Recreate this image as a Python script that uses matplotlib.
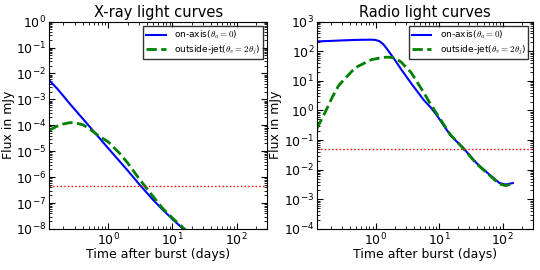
import numpy as np
import matplotlib
matplotlib.use('Agg')
import matplotlib.pyplot as plt
from matplotlib.ticker import LogLocator

plt.rcParams['mathtext.fontset'] = 'cm'

# X-ray panel: time (days) and flux (mJy)
t_xray = [0.12, 0.16, 0.2, 0.25, 0.3, 0.4, 0.5, 0.7, 1.0, 1.5, 2.0, 3.0, 5.0, 7.0, 10.0, 15.0, 18.0]
xray_on = [5.5e-3, 2.6e-3, 1.35e-3, 6.9e-4, 4.1e-4, 1.8e-4, 9.5e-5, 3.6e-5, 1.29e-5,
           4.1e-6, 1.82e-6, 5.5e-7, 1.32e-7, 5.6e-8, 2.4e-8, 9.5e-9, 6.3e-9]
xray_off = [6.3e-5, 9.3e-5, 1.12e-4, 1.26e-4, 1.26e-4, 1.05e-4, 7.6e-5, 3.98e-5, 2.29e-5,
            8.3e-6, 3.55e-6, 8.9e-7, 1.78e-7, 6.3e-8, 2.63e-8, 1.05e-8, 7.1e-9]
xray_limit = 4.4e-7

# Radio panel
t_radio = [0.12, 0.158, 0.209, 0.263, 0.331, 0.479, 0.603, 0.871, 1.0, 1.148, 1.318, 1.514,
           1.738, 1.995, 2.512, 3.63, 5.75, 7.41, 9.33, 15.1, 24.0, 38.9, 63.1, 89.1, 112.2, 144.5]
radio_on = [214, 219, 224, 229, 234, 240, 243, 245, 240, 219, 174, 120,
            79, 52.5, 25.1, 8.3, 2.24, 1.26, 0.66, 0.145, 0.054, 0.0166, 0.0066, 0.00355, 0.00316, 0.00355]
radio_off = [0.25, 0.79, 2.82, 6.9, 12.0, 27.5, 35.5, 52.5, 55.0, 58.9, 61.7, 63.1,
             62.0, 58.9, 43.7, 19.1, 3.98, 1.58, 0.74, 0.151, 0.0525, 0.0158, 0.0063, 0.0033, 0.0029, 0.0034]
radio_limit = 0.051

on_label = r'on-axis($\theta_a=0$)'
off_label = r'outside-jet($\theta_v=2\theta_j$)'

fig = plt.figure(figsize=(5.4, 2.7), dpi=100)
ax1 = fig.add_axes([0.091, 0.152, 0.404, 0.768])
ax2 = fig.add_axes([0.587, 0.152, 0.400, 0.768])


def style_axis(ax, title, ylim):
    ax.set_xscale('log')
    ax.set_yscale('log')
    ax.set_xlim(0.12, 300)
    ax.set_ylim(*ylim)
    ax.yaxis.set_major_locator(LogLocator(base=10, numticks=20))
    ax.yaxis.set_minor_locator(LogLocator(base=10, subs=np.arange(2, 10), numticks=100))
    ax.xaxis.set_minor_locator(LogLocator(base=10, subs=np.arange(2, 10), numticks=100))
    ax.tick_params(which='both', direction='in', top=True, right=True, labelsize=9)
    ax.tick_params(which='major', length=4, pad=2)
    ax.tick_params(which='minor', length=2)
    ax.set_title(title, fontsize=10.5, pad=3)
    ax.set_xlabel('Time after burst (days)', fontsize=9, labelpad=0)
    ax.set_ylabel('Flux in mJy', fontsize=9, labelpad=1)
    ax.legend(loc='upper right', fontsize=6.5, frameon=True, fancybox=False,
              edgecolor='black', handlelength=2.2, borderpad=0.3, labelspacing=0.25,
              borderaxespad=0.5, handletextpad=0.9)


ax1.plot(t_xray, xray_on, color='blue', lw=1.5, label=on_label)
ax1.plot(t_xray, xray_off, color='green', lw=2, ls='--', label=off_label)
ax1.axhline(xray_limit, color='red', lw=1, ls=':')
style_axis(ax1, 'X-ray light curves', (1e-8, 1))

ax2.plot(t_radio, radio_on, color='blue', lw=1.5, label=on_label)
ax2.plot(t_radio, radio_off, color='green', lw=2, ls='--', label=off_label)
ax2.axhline(radio_limit, color='red', lw=1, ls=':')
style_axis(ax2, 'Radio light curves', (1e-4, 1e3))

fig.savefig('out.png', dpi=100)
